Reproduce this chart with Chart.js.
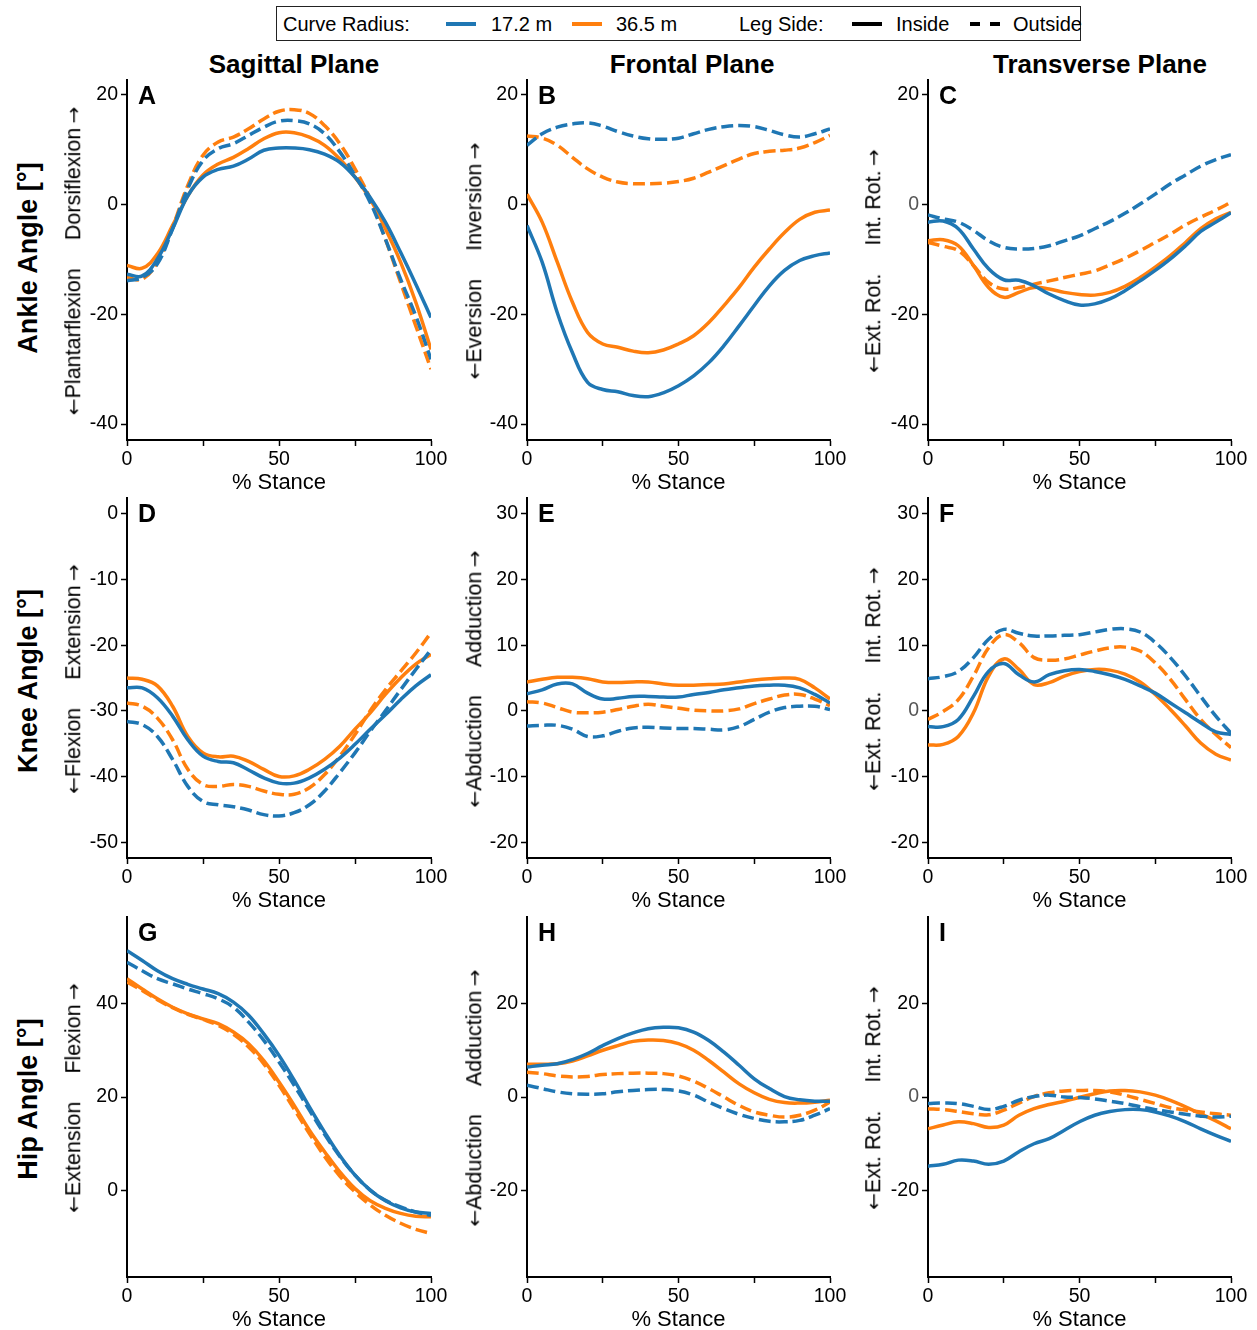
<!DOCTYPE html>
<html>
<head>
<meta charset="utf-8">
<script src="https://cdn.jsdelivr.net/npm/chart.js@4.4.0/dist/chart.umd.min.js"></script>
<style>
body{margin:0;background:#fff;width:1257px;height:1330px;position:relative;overflow:hidden;font-family:"Liberation Sans",Arial,sans-serif;color:#000}
canvas{position:absolute}
.t{position:absolute;white-space:nowrap;line-height:1;transform:translate(-50%,-50%)}
.r{position:absolute;white-space:nowrap;line-height:1;transform:translate(-50%,-50%) rotate(-90deg)}
.ar{font-family:"DejaVu Sans",sans-serif;font-size:20px}
.lt{position:absolute;top:24px;white-space:nowrap;line-height:1;transform:translateY(-50%);font-size:20px}
.sw{position:absolute;top:22px;height:4px}
</style>
</head>
<body>
<div style="position:absolute;left:276px;top:6px;width:803px;height:33px;border:1.5px solid #222"></div>
<div class="lt" style="left:283px">Curve Radius:</div>
<div class="sw" style="left:446px;width:30px;background:#1f77b4"></div>
<div class="lt" style="left:491px">17.2 m</div>
<div class="sw" style="left:572px;width:30px;background:#ff7f0e"></div>
<div class="lt" style="left:616px">36.5 m</div>
<div class="lt" style="left:739px">Leg Side:</div>
<div class="sw" style="left:852px;width:30px;background:#000"></div>
<div class="lt" style="left:896px">Inside</div>
<div class="sw" style="left:970px;width:10px;background:#000"></div>
<div class="sw" style="left:990px;width:10px;background:#000"></div>
<div class="lt" style="left:1013px">Outside</div>

<script>
var FONT = '"Liberation Sans", Arial, sans-serif';
var BLUE = '#1f77b4', ORANGE = '#ff7f0e';

// % stance sample points
var stance = [0,5,10,15,20,25,30,35,40,45,50,55,60,65,70,75,80,85,90,95,100];
var xTicks = [0,25,50,75,100];
var xTickLabels = [0,50,100];

var colTitles = ['Sagittal Plane','Frontal Plane','Transverse Plane'];
var rowTitles = ['Ankle Angle [°]','Knee Angle [°]','Hip Angle [°]'];

// ankle
var A17in  = [-12.7,-13,-9.9,-4.4,1.6,5,6.4,7,8.3,9.9,10.3,10.3,10,9.2,7.7,5,1.3,-3.2,-8.7,-14.5,-20.6];
var A36in  = [-11.1,-11.6,-9,-3.8,1.6,5.4,7.4,8.6,10.2,12,13.1,13.1,12.3,10.8,8.3,5,1,-4.4,-10.5,-17.8,-26.4];
var A17out = [-13.9,-13.3,-10.8,-4.4,2.9,8,10.2,11.1,12.6,14.1,15.2,15.3,14.7,12.9,9.6,5.3,0.4,-6.3,-13.6,-20.3,-28.2];
var A36out = [-13.3,-13.6,-10.5,-4.1,3.5,9,11.4,12.3,13.8,15.6,17,17.3,16.6,14.4,11.1,6.5,1,-6.3,-14.2,-22.1,-30];

var B17in  = [-3.8,-10.5,-19.7,-27,-32.4,-33.7,-34.1,-34.8,-35,-34.3,-33,-31.2,-28.8,-25.7,-22.1,-18.4,-14.8,-12,-10.2,-9.3,-8.8];
var B36in  = [1.9,-3.2,-10.5,-17.8,-23.3,-25.4,-26,-26.7,-27,-26.5,-25.4,-23.9,-21.5,-18.4,-15.1,-11.4,-8.1,-5.1,-2.7,-1.4,-1];
var B17out = [10.8,12.9,14.1,14.7,14.9,14.3,13.3,12.5,12,11.9,12.1,12.9,13.7,14.2,14.4,14.2,13.5,12.7,12.3,12.9,13.8];
var B36out = [12.5,12.1,10.8,8.6,6.5,5,4.1,3.8,3.8,3.9,4.2,4.8,5.9,7.1,8.3,9.3,9.7,9.9,10.3,11.3,12.6];

var C17in  = [-3.2,-3,-4.4,-8.1,-11.7,-13.7,-13.8,-14.8,-16.3,-17.5,-18.3,-18.1,-17.2,-15.7,-13.9,-12,-9.9,-7.5,-4.9,-3.2,-1.5];
var C36in  = [-6.6,-6.4,-7.5,-11.1,-15.1,-16.9,-16,-15.1,-15.4,-16,-16.4,-16.5,-16,-14.9,-13.3,-11.4,-9.3,-6.9,-4.4,-2.6,-1.4];
var C17out = [-1.9,-2.6,-3.2,-4.7,-6.6,-7.8,-8.1,-8,-7.5,-6.6,-5.7,-4.4,-3.1,-1.6,0.1,1.9,3.8,5.4,7,8.2,9.1];
var C36out = [-6.9,-7.6,-8.4,-11.1,-14.2,-15.4,-15.1,-14.5,-13.9,-13.3,-12.7,-12.1,-11,-9.8,-8.4,-6.9,-5.4,-3.7,-2.3,-1,0.4];

// knee
var D17in  = [-26.5,-26.5,-28,-30.8,-34.4,-36.9,-37.7,-37.9,-39,-40.2,-41,-41,-40.2,-38.9,-37.2,-35.1,-32.8,-30.6,-28.3,-26.2,-24.5];
var D36in  = [-25,-25.2,-26.2,-29.3,-33.9,-36.4,-37,-36.9,-37.7,-38.9,-40,-39.9,-38.9,-37.4,-35.4,-32.8,-30.3,-27.5,-25,-22.9,-21.4];
var D17out = [-31.6,-32.1,-33.9,-37.4,-41.5,-43.8,-44.3,-44.6,-45.1,-45.8,-46,-45.5,-44.3,-42.2,-39.4,-36.4,-33.1,-30,-26.8,-23.7,-20.7];
var D36out = [-28.8,-29.3,-31.1,-34.4,-38.9,-41.2,-41.5,-41.2,-41.5,-42.2,-42.7,-42.7,-41.7,-39.7,-36.9,-33.6,-30,-26.8,-24,-21.2,-18.1];

var E17in  = [2.6,3.2,4.1,4.1,2.7,1.8,1.9,2.2,2.2,2.1,2.1,2.5,2.8,3.2,3.5,3.8,3.9,3.9,3.5,2.5,1.2];
var E36in  = [4.4,4.8,5.1,5.1,4.9,4.4,4.3,4.4,4.4,4.1,3.9,3.9,4,4.1,4.4,4.7,4.9,5,4.8,3.5,1.8];
var E17out = [-2.3,-2.2,-2.2,-2.8,-3.9,-3.8,-3.1,-2.6,-2.5,-2.6,-2.7,-2.7,-2.8,-2.9,-2.4,-1.3,-0.2,0.5,0.7,0.7,0.2];
var E36out = [1.4,1.2,0.5,-0.2,-0.3,-0.2,0.2,0.7,1,0.7,0.4,0.1,0,0,0.3,1.1,1.8,2.4,2.5,1.8,0.8];

var F17in  = [-2.4,-2.4,-1.3,2.2,6,7.2,5.5,4.4,5.5,6.1,6.3,6,5.5,4.8,3.8,2.7,1.2,-0.3,-1.8,-3.2,-3.6];
var F36in  = [-5.2,-5.1,-3.9,-0.3,5.3,7.9,6.3,4,4.3,5.3,6,6.3,6.2,5.6,4.4,2.5,0.2,-2.3,-4.9,-6.6,-7.5];
var F17out = [4.9,5.2,6,8.1,10.9,12.4,11.8,11.4,11.4,11.5,11.6,12,12.4,12.5,12,10.4,8.1,5.3,2.2,-0.8,-3.4];
var F36out = [-1.3,-0.1,1.7,5.3,9.6,11.6,10.4,8.1,7.7,7.9,8.5,9.1,9.6,9.7,9.1,7.3,4.8,1.7,-1.3,-3.6,-5.6];

// hip
var G17in  = [51.3,49.2,47,45.3,44.1,43.1,42.1,40.3,37.5,33.5,28.9,23.6,17.9,12.5,7.5,3.3,0.1,-2.2,-3.7,-4.6,-4.9];
var G36in  = [45.3,43.1,41,39.2,37.8,36.7,35.7,33.9,31.4,27.8,23.2,18.2,12.9,8.3,4,0.4,-2.2,-3.8,-4.9,-5.5,-5.6];
var G17out = [48.8,47,45.3,44.2,43.1,42.1,41,39.2,36,32.1,27.5,22.5,17.2,12,7.3,3.3,0.1,-2.1,-3.5,-4.6,-5.3];
var G36out = [44.6,42.8,40.8,39.1,37.7,36.6,35.3,33.4,30.7,27.1,22.5,17.4,12.2,7.3,3.1,-0.3,-3.1,-5.3,-7,-8.3,-9.2];

var H17in  = [6.4,6.8,7.1,8,9.3,11,12.5,13.7,14.6,14.9,14.8,13.9,12.1,9.6,6.8,3.9,1.8,0.1,-0.6,-0.9,-0.9];
var H36in  = [7,7,7.1,7.7,8.8,10,11,11.9,12.2,12.1,11.4,10,7.8,5.3,2.8,0.9,-0.5,-1.2,-1.3,-1.1,-0.7];
var H17out = [2.5,1.8,1.1,0.7,0.6,0.7,1.1,1.4,1.6,1.6,1.3,0.4,-1.1,-2.5,-3.7,-4.6,-5.2,-5.3,-5,-3.9,-2.5];
var H36out = [5.3,5,4.5,4.3,4.4,4.8,5,5.1,5.1,5,4.5,3.4,1.8,0,-1.8,-3.2,-3.9,-4.3,-3.9,-2.8,-1.1];

var I17in  = [-14.8,-14.4,-13.5,-13.7,-14.4,-13.7,-11.7,-10,-8.9,-7.1,-5.3,-3.9,-3.1,-2.7,-2.7,-3.2,-4.1,-5.3,-6.8,-8.2,-9.5];
var I36in  = [-6.8,-6,-5.3,-5.7,-6.5,-6,-3.9,-2.5,-1.6,-0.9,-0.1,0.7,1.3,1.4,1.1,0.4,-0.7,-2.1,-3.6,-5.1,-6.8];
var I17out = [-1.4,-1.3,-1.4,-2,-2.7,-2,-0.7,0.1,0.4,0,-0.1,-0.4,-0.9,-1.4,-2.1,-2.7,-3.2,-3.7,-4.1,-4.3,-4.1];
var I36out = [-2.5,-2.7,-3.1,-3.6,-3.8,-2.8,-1.3,0.1,0.9,1.3,1.4,1.4,1.1,0.4,-0.5,-1.4,-2.3,-2.8,-3.2,-3.6,-3.9];

// y axis ticks
var ankleTicks = [-40,-20,0,20];
var kneeSagTicks = [-50,-40,-30,-20,-10,0];
var kneeTicks = [-20,-10,0,10,20,30];
var hipSagTicks = [0,20,40];
var hipTicks = [-20,0,20];

// plot boxes in page pixels
var colLeft = [127,527,928], colRight = [431,830,1231];
var rowTop = [80,498,917], rowBottom = [440,858,1277];

function addText(cls, x, y, txt, css) {
  var d = document.createElement('div');
  d.className = cls;
  d.style.left = x + 'px';
  d.style.top = y + 'px';
  d.style.cssText += css || '';
  d.innerHTML = txt;
  document.body.appendChild(d);
}

function makePanel(letter, col, row, vals, yMin, yMax, yTicks, dirLabels) {
  var padL = 70, padR = 26, padT = 20, padB = 56;
  var w = colRight[col] - colLeft[col], h = rowBottom[row] - rowTop[row];
  var cv = document.createElement('canvas');
  cv.width = w + padL + padR;
  cv.height = h + padT + padB;
  cv.style.left = (colLeft[col] - padL) + 'px';
  cv.style.top = (rowTop[row] - padT) + 'px';
  document.body.appendChild(cv);

  var styles = [
    {c: BLUE, d: []}, {c: BLUE, d: [12, 5]},
    {c: ORANGE, d: []}, {c: ORANGE, d: [12, 5]}
  ];
  var datasets = vals.map(function(v, k) {
    return {
      data: stance.map(function(x, i) { return {x: x, y: v[i]}; }),
      borderColor: styles[k].c,
      borderDash: styles[k].d,
      borderWidth: 3.5,
      pointRadius: 0,
      tension: 0.4,
      fill: false
    };
  });

  new Chart(cv, {
    type: 'line',
    data: {datasets: datasets},
    options: {
      responsive: false,
      animation: false,
      events: [],
      layout: {padding: {left: 0, right: padR, top: padT, bottom: 0}},
      plugins: {legend: {display: false}, tooltip: {enabled: false}},
      scales: {
        x: {
          type: 'linear', min: 0, max: 100,
          afterBuildTicks: function(sc) { sc.ticks = xTicks.map(function(v) { return {value: v}; }); },
          afterFit: function(sc) { sc.height = padB; },
          grid: {display: true, drawOnChartArea: false, drawTicks: true, tickLength: 6, tickWidth: 1.5, tickColor: '#000'},
          border: {display: true, color: '#000', width: 2},
          ticks: {
            color: '#000', font: {size: 19.5, family: FONT}, padding: 2, maxRotation: 0, autoSkip: false,
            callback: function(v) { return xTickLabels.indexOf(v) >= 0 ? String(v) : ''; }
          },
          title: {display: true, text: '% Stance', color: '#000', font: {size: 22, family: FONT}, padding: 0}
        },
        y: {
          type: 'linear', min: yMin, max: yMax,
          afterBuildTicks: function(sc) { sc.ticks = yTicks.map(function(v) { return {value: v}; }); },
          afterFit: function(sc) { sc.width = padL; },
          grid: {display: true, drawOnChartArea: false, drawTicks: true, tickLength: 6, tickWidth: 1.5, tickColor: '#000'},
          border: {display: true, color: '#000', width: 2},
          ticks: {
            font: {size: 19.5, family: FONT}, padding: 3,
            color: function(c) { return (col === 2 && c.tick && c.tick.value === 0) ? '#555' : '#000'; }
          }
        }
      }
    }
  });

  addText('t', colLeft[col] + 11, rowTop[row] + 14.5, letter,
    'transform:translate(0,-50%);font-weight:bold;font-size:25px');
  var dirX = [74, 474.5, 874][col];
  var midY = (rowTop[row] + rowBottom[row]) / 2 + 1;
  addText('r', dirX, midY,
    '<span class="ar">←</span><span>' + dirLabels[0] + '</span>' +
    '<span style="display:inline-block;width:28px"></span>' +
    '<span>' + dirLabels[1] + '</span><span class="ar">→</span>',
    'font-size:21.5px');
}

colTitles.forEach(function(t, i) {
  addText('t', [294, 692, 1100][i], 64, t, 'font-weight:bold;font-size:26px');
});
rowTitles.forEach(function(t, i) {
  addText('r', 28, [258, 681, 1099][i], t, 'font-weight:bold;font-size:27px');
});

makePanel('A', 0, 0, [A17in, A17out, A36in, A36out], -42.9, 22.7, ankleTicks, ['Plantarflexion', 'Dorsiflexion\u2009']);
makePanel('B', 1, 0, [B17in, B17out, B36in, B36out], -42.9, 22.7, ankleTicks, ['Eversion', 'Inversion\u2009']);
makePanel('C', 2, 0, [C17in, C17out, C36in, C36out], -42.9, 22.7, ankleTicks, ['Ext. Rot.', 'Int. Rot.\u2009']);
makePanel('D', 0, 1, [D17in, D17out, D36in, D36out], -52.4, 2.4, kneeSagTicks, ['Flexion', 'Extension\u2009']);
makePanel('E', 1, 1, [E17in, E17out, E36in, E36out], -22.4, 32.4, kneeTicks, ['Abduction', 'Adduction\u2009']);
makePanel('F', 2, 1, [F17in, F17out, F36in, F36out], -22.4, 32.4, kneeTicks, ['Ext. Rot.', 'Int. Rot.\u2009']);
makePanel('G', 0, 2, [G17in, G17out, G36in, G36out], -18.5, 58.5, hipSagTicks, ['Extension', 'Flexion\u2009']);
makePanel('H', 1, 2, [H17in, H17out, H36in, H36out], -38.5, 38.5, hipTicks, ['Abduction', 'Adduction\u2009']);
makePanel('I', 2, 2, [I17in, I17out, I36in, I36out], -38.5, 38.5, hipTicks, ['Ext. Rot.', 'Int. Rot.\u2009']);
</script>
</body>
</html>
